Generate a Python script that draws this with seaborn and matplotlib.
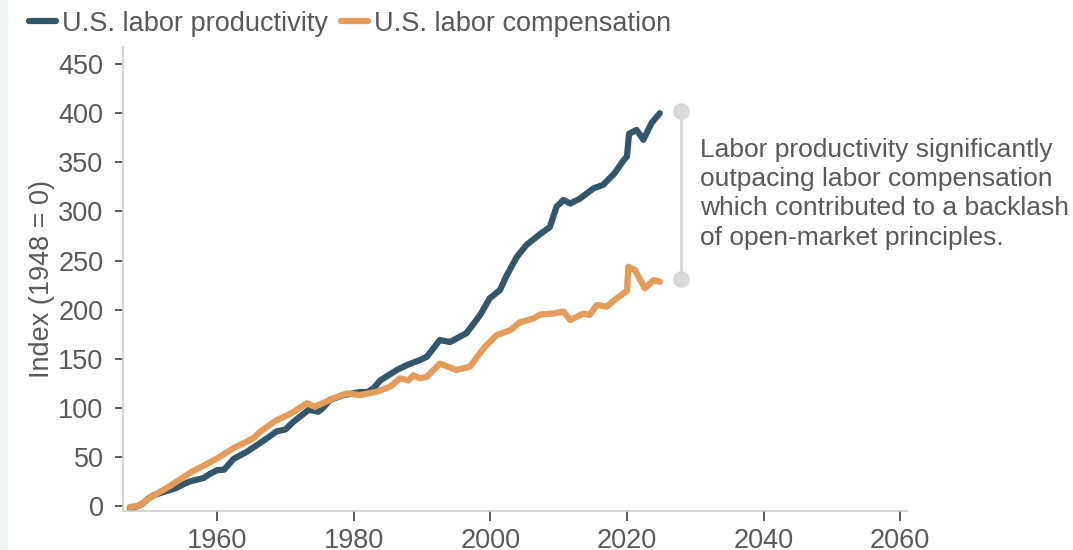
"""U.S. labor productivity vs. labor compensation, index 1948 = 0."""
import matplotlib
matplotlib.use('Agg')
import matplotlib.pyplot as plt
from matplotlib.lines import Line2D
from matplotlib.patches import Rectangle
import pandas as pd
import seaborn as sns

# values
prod_years = [1947.2, 1948.0, 1949.0, 1950.0, 1950.7, 1952.0, 1953.9, 1955.0, 1956.0,
              1958.0, 1959.0, 1960.0, 1961.0, 1962.4, 1964.3, 1965.8, 1967.3, 1968.7,
              1970.0, 1971.2, 1973.4, 1974.8, 1975.5, 1976.5, 1978.5, 1980.9, 1982.0,
              1982.9, 1983.9, 1986.3, 1987.8, 1989.7, 1990.7, 1992.6, 1994.1, 1996.5,
              1998.5, 1999.9, 2001.4, 2002.4, 2003.9, 2005.3, 2007.3, 2008.7, 2009.7,
              2010.7, 2011.7, 2013.1, 2015.1, 2016.5, 2018.2, 2019.5, 2020.0, 2020.3,
              2021.4, 2022.4, 2023.6, 2024.8]
prod_vals = [-2, -1, 2, 8, 11, 14, 18, 22, 25,
             28.5, 33, 36.5, 37, 48, 55, 62, 69, 76,
             78, 86, 98, 96, 100, 108, 113, 116, 116,
             120, 128, 138.5, 143.6, 148.7, 152, 169, 167, 176,
             194.5, 211.5, 220, 235, 254, 266, 277, 284, 305,
             311.6, 308, 313, 323.5, 327, 339, 352, 356, 379,
             383, 373, 390, 400]

comp_years = [1947.2, 1948.5, 1950.4, 1953.0, 1956.3, 1958.0, 1960.0, 1962.4, 1965.3,
              1966.3, 1968.7, 1969.2, 1971.0, 1973.1, 1974.3, 1977.0, 1979.0, 1980.9,
              1983.4, 1985.3, 1986.8, 1988.0, 1988.7, 1989.7, 1990.7, 1992.6, 1995.0,
              1997.0, 1999.0, 2000.9, 2002.9, 2004.3, 2006.3, 2007.3, 2009.2, 2010.7,
              2011.7, 2013.6, 2014.5, 2015.6, 2017.0, 2018.5, 2019.5, 2020.0, 2020.2,
              2021.2, 2022.6, 2023.9, 2024.8]
comp_vals = [-1, 0, 9.5, 20, 35, 41, 48.5, 59, 69,
             75.7, 87.5, 89, 95, 104.6, 101, 109.7, 114.7, 113,
             116.4, 121.5, 130, 128, 133, 130, 131.7, 145, 138.5,
             141.8, 160.6, 174, 179, 187, 191, 195, 196, 198,
             189.4, 196, 194.5, 204.7, 203, 211.5, 216.6, 219, 243.7,
             240, 221.7, 230, 228.4]

labels = ['U.S. labor productivity', 'U.S. labor compensation']
colors = ['#33566b', '#e59c58']
note = ('Labor productivity significantly\noutpacing labor compensation\n'
        'which contributed to a backlash\nof open-market principles.')

sns.set_style('ticks')
plt.rcParams['font.family'] = ['Liberation Sans', 'DejaVu Sans']
plt.rcParams['font.size'] = 19.5

fig = plt.figure(figsize=(10.73, 5.5), dpi=100)
fig.patches.append(Rectangle((0, 0), 7 / 1073, 1, transform=fig.transFigure,
                             color='#eef2f3', zorder=0))
ax = fig.add_axes([0.1146, 0.0709, 0.7307, 0.8436])

prod = pd.DataFrame({'year': prod_years, 'value': prod_vals})
comp = pd.DataFrame({'year': comp_years, 'value': comp_vals})
sns.lineplot(data=prod, x='year', y='value', color=colors[0], linewidth=4.5, ax=ax)
sns.lineplot(data=comp, x='year', y='value', color=colors[1], linewidth=4.5, ax=ax)

ax.set_xlim(1946.2, 2061.0)
ax.set_ylim(-5.1, 467.4)
ax.set_xticks([1960, 1980, 2000, 2020, 2040, 2060])
ax.set_yticks(range(0, 451, 50))
ax.set_xlabel('')
ax.set_ylabel('Index (1948 = 0)', color='#595959', labelpad=2)
ax.tick_params(colors='#404040', labelcolor='#595959', length=6, width=1.2)
ax.tick_params(axis='y', pad=8)
ax.tick_params(axis='x', length=7, pad=5)
sns.despine(ax=ax)
for side in ['left', 'bottom']:
    ax.spines[side].set_color('#cccccc')
    ax.spines[side].set_linewidth(1.2)

# bracket between the two end values
x_br = 2027.9
top, bottom = prod_vals[-1] + 2, comp_vals[-1] + 3
ax.plot([x_br, x_br], [top, bottom], color='#d9d9d9', linewidth=2,
        marker='o', markersize=11, clip_on=False)
ax.text(2030.7, 375, note, color='#595959', va='top', ha='left', fontsize=19,
        linespacing=1.28, clip_on=False)

handles = [Line2D([], [], color=c, linewidth=4.5) for c in colors]
fig.legend(handles, labels, loc='upper left', bbox_to_anchor=(0.004, 1.025),
           ncol=2, frameon=False, handlelength=1.0, handletextpad=0.22,
           columnspacing=0.48, labelcolor='#595959')

fig.savefig('out.png', dpi=100)
